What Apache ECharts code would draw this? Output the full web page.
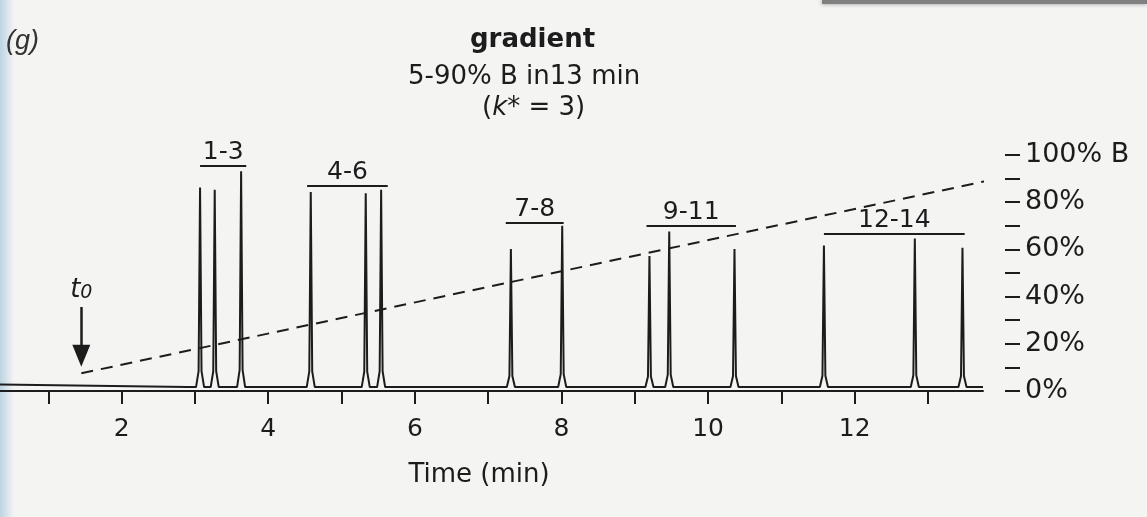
<!DOCTYPE html>
<html>
<head>
<meta charset="utf-8">
<script src="https://cdn.jsdelivr.net/npm/echarts@6/dist/echarts.min.js"></script>
<style>
  html, body { margin: 0; padding: 0; background: #f4f4f3; }
  #chart { width: 1147px; height: 517px; }
</style>
</head>
<body>
<div id="chart"></div>
<script>
// retention times (min) and heights of the 14 peaks
const peakTimes = [3.07, 3.27, 3.63, 4.58, 5.33, 5.54, 7.31, 8.01, 9.20, 9.47, 10.36, 11.58, 12.82, 13.47];
const peakHeights = [86, 85, 93, 84, 83.5, 85, 59.5, 69.5, 56.5, 67, 59.5, 61, 64, 60];

// peak group brackets
const groupNames = ['1-3', '4-6', '7-8', '9-11', '12-14'];
const groupStart = [3.07, 4.53, 7.24, 9.16, 11.58];
const groupEnd = [3.70, 5.63, 8.03, 10.38, 13.50];
const groupLevel = [95.3, 86.6, 70.7, 69.4, 65.9];

// %B gradient (dashed line)
const gradientTime = [1.45, 13.95];
const gradientB = [7.5, 90];
const t0 = 1.45;

const xTicks = [0, 1, 2, 3, 4, 5, 6, 7, 8, 9, 10, 11, 12, 13];
const xLabels = [0, 2, 4, 6, 8, 10, 12];
const bLabels = [0, 20, 40, 60, 80, 100];

const FONT = 'DejaVu Sans';
const INK = '#1c1c1c';

// chromatogram trace
const trace = [[0, 1.3], [2.9, 0]];
peakTimes.forEach(function (t, i) {
  const h = peakHeights[i];
  trace.push([t - 0.055, 0], [t - 0.02, h * 0.08], [t, h], [t + 0.02, h * 0.08], [t + 0.055, 0]);
});
trace.push([13.75, 0]);

const brackets = groupNames.map(function (name, i) {
  return [
    { name: name, coord: [groupStart[i], groupLevel[i]] },
    { coord: [groupEnd[i], groupLevel[i]] }
  ];
});

const myChart = echarts.init(document.getElementById('chart'));
myChart.setOption({
  backgroundColor: '#f4f4f3',
  animation: false,
  graphic: [
    {
      type: 'rect', left: 0, top: 0, z: -1,
      shape: { width: 14, height: 517 },
      style: {
        fill: new echarts.graphic.LinearGradient(0, 0, 1, 0, [
          { offset: 0, color: 'rgba(150,190,215,0.6)' },
          { offset: 1, color: 'rgba(150,190,215,0)' }
        ])
      }
    },
    {
      type: 'rect', left: 822, top: 0,
      shape: { width: 325, height: 4 },
      style: { fill: '#808080', shadowBlur: 4, shadowColor: 'rgba(0,0,0,0.4)' }
    }
  ],
  title: [
    {
      text: 'gradient', left: 470, top: 27, padding: 0,
      textStyle: { fontFamily: FONT, fontSize: 26, fontWeight: 'bold', color: INK }
    },
    {
      text: '5-90% B in13 min', left: 408, top: 64, padding: 0,
      textStyle: { fontFamily: FONT, fontSize: 26, fontWeight: 'normal', color: INK }
    },
    {
      text: '{n|(}{i|k}{n|* = 3)}', left: 482, top: 95, padding: 0,
      textStyle: {
        fontWeight: 'normal',
        rich: {
          n: { fontFamily: FONT, fontSize: 26, fontWeight: 'normal', color: INK },
          i: { fontFamily: FONT, fontSize: 26, fontWeight: 'normal', fontStyle: 'italic', color: INK }
        }
      }
    },
    {
      text: '(g)', left: 6, top: 28, padding: 0,
      textStyle: { fontFamily: 'Liberation Sans Narrow, Liberation Sans', fontSize: 27, fontStyle: 'italic', fontWeight: 'normal', color: '#333' }
    }
  ],
  grid: {
    left: -25,
    right: 164,
    top: 155,
    bottom: 126,
    outerBoundsMode: 'none',
    containLabel: false
  },
  xAxis: {
    type: 'value',
    min: 0,
    max: 13.75,
    interval: 1,
    name: 'Time (min)',
    nameLocation: 'middle',
    nameGap: 71,
    nameTextStyle: { fontFamily: FONT, fontSize: 26, color: INK },
    axisLine: { show: true, onZero: false, lineStyle: { color: INK, width: 2 } },
    axisTick: { show: true, length: 13, customValues: xTicks, lineStyle: { color: INK, width: 2 } },
    axisLabel: { customValues: xLabels, margin: 26, fontFamily: FONT, fontSize: 25, color: INK },
    splitLine: { show: false }
  },
  yAxis: [
    {
      type: 'value',
      position: 'right',
      offset: 22,
      min: 0,
      max: 100,
      interval: 10,
      axisLine: { show: false, onZero: false },
      axisTick: { show: true, inside: false, length: 15, lineStyle: { color: INK, width: 2 } },
      axisLabel: {
        customValues: bLabels,
        margin: 20,
        fontFamily: FONT,
        fontSize: 27,
        color: INK,
        formatter: function (v) { return v === 100 ? '100% B' : v + '%'; }
      },
      splitLine: { show: false }
    },
    {
      type: 'value',
      show: false,
      min: -1.7,
      max: 100
    }
  ],
  series: [
    {
      name: 'signal',
      type: 'line',
      yAxisIndex: 1,
      data: trace,
      symbol: 'none',
      lineStyle: { color: INK, width: 2 },
      markLine: {
        silent: true,
        symbol: ['none', 'none'],
        lineStyle: { color: INK, width: 2, type: 'solid' },
        label: {
          show: true,
          position: 'insideMiddleTop',
          distance: 1,
          formatter: '{b}',
          fontFamily: FONT,
          fontSize: 25,
          color: INK
        },
        data: brackets
      }
    },
    {
      name: 't0',
      type: 'line',
      yAxisIndex: 1,
      data: [],
      markLine: {
        silent: true,
        symbol: ['none', 'triangle'],
        symbolSize: [18, 22],
        symbolRotate: 180,
        lineStyle: { color: INK, width: 2.5, type: 'solid' },
        label: {
          show: true,
          position: 'start',
          distance: 4,
          formatter: '{t|t}{s|0}',
          rich: {
            t: { fontFamily: FONT, fontSize: 26, fontStyle: 'italic', color: INK, verticalAlign: 'bottom' },
            s: { fontFamily: FONT, fontSize: 19, fontStyle: 'italic', color: INK, verticalAlign: 'bottom' }
          }
        },
        data: [[{ coord: [t0, 34.5] }, { coord: [t0, 13.5] }]]
      }
    },
    {
      name: '%B',
      type: 'line',
      yAxisIndex: 0,
      clip: false,
      data: gradientTime.map(function (t, i) { return [t, gradientB[i]]; }),
      symbol: 'none',
      lineStyle: { color: INK, width: 2, type: [12, 8] }
    }
  ]
});
</script>
</body>
</html>
